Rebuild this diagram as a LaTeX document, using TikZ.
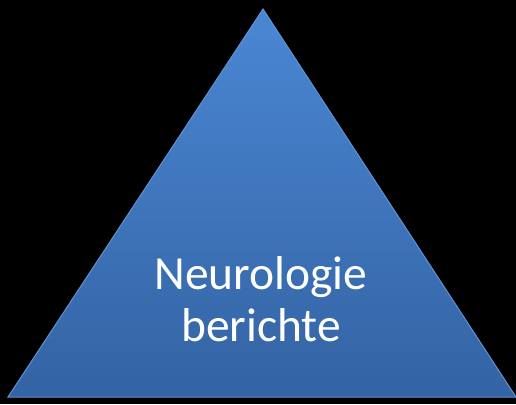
\documentclass[tikz,border=0pt]{standalone}
\usepackage{fontspec}
\setmainfont{Carlito}
\definecolor{topblue}{RGB}{74,135,211}
\definecolor{botblue}{RGB}{51,99,163}
\definecolor{edgeblue}{RGB}{96,146,212}
\tikzset{pyr/.style={top color=topblue,bottom color=botblue,draw=edgeblue,line width=1pt,line join=miter},
lbl/.style={text=white,align=center,font=\fontsize{47.5pt}{52pt}\selectfont,inner sep=0pt}}
\begin{document}
\begin{tikzpicture}[x=1pt,y=-1pt]
\fill[black] (0,0) rectangle (516,404);
\useasboundingbox (0,0) rectangle (516,404);
\coordinate (apex) at (263,9);
\coordinate (bl) at (8,397);
\coordinate (br) at (516,397);
\path[pyr] (apex) -- (br) -- (bl) -- cycle;
\node[lbl] (t) at (261,299) {Neurologie\\berichte};
\end{tikzpicture}
\end{document}
